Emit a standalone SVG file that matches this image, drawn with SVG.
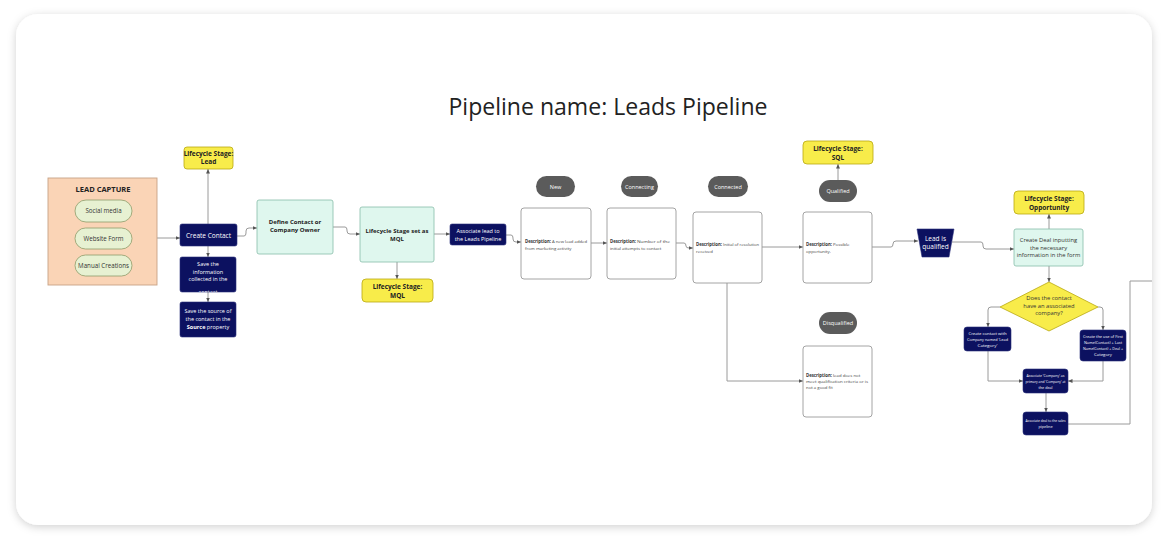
<svg xmlns="http://www.w3.org/2000/svg" width="1168" height="541" viewBox="0 0 1168 541">
<style>
text{font-family:"Open Sans","Noto Sans","Liberation Sans",sans-serif;}
.navy{fill:#0c1160;stroke:#2a2f7a;stroke-width:0.6;}
.mint{fill:#dff7ee;stroke:#86bda8;stroke-width:0.8;}
.yel{fill:#f8ec4a;stroke:#b9a810;stroke-width:0.8;}
.pill{fill:#e7f1d2;stroke:#8e9c6a;stroke-width:0.8;}
.gray{fill:#5b5b5b;}
.desc{fill:#ffffff;stroke:#9a9a9a;stroke-width:0.9;}
.wt{fill:#ffffff;font-size:5.5px;text-anchor:middle;}
.wt2{fill:#ffffff;font-size:6.5px;text-anchor:middle;}
.ws{fill:#ffffff;font-size:4.2px;text-anchor:middle;}
.bt{fill:#222;font-size:6px;font-weight:bold;text-anchor:middle;}
.yt{fill:#222;font-size:6.5px;font-weight:bold;text-anchor:middle;}
.dt{fill:#444;font-size:4.3px;}
.db{fill:#333;font-size:4.3px;font-weight:bold;}
.b{font-weight:bold;}
.pt{fill:#333;font-size:6.2px;text-anchor:middle;}
.ct{fill:#333;font-size:5.8px;text-anchor:middle;}
.conn path{fill:none;stroke:#9a9a9a;stroke-width:1;}
.arr{marker-end:url(#ah);}
</style>
<defs>
<filter id="sh" x="-5%" y="-5%" width="110%" height="110%">
<feDropShadow dx="0" dy="2" stdDeviation="4" flood-color="#000" flood-opacity="0.18"/>
</filter>
<marker id="ah" markerWidth="5" markerHeight="5" refX="4.5" refY="2.5" orient="auto" markerUnits="userSpaceOnUse">
<path d="M0,0.5 L4.5,2.5 L0,4.5 Z" fill="#555"/>
</marker>
<clipPath id="clipSave"><rect x="180" y="257" width="56" height="35"/></clipPath>
</defs>
<rect x="0" y="0" width="1168" height="541" fill="#ffffff"/>
<rect x="16" y="14" width="1136" height="511" rx="22" fill="#ffffff" filter="url(#sh)"/>
<text x="608" y="115" font-size="23" fill="#222" text-anchor="middle" textLength="319" lengthAdjust="spacingAndGlyphs">Pipeline name: Leads Pipeline</text>

<g class="conn">
<path d="M132,211 H156 V265 H132"/>
<path d="M132,238 H156"/>
<path class="arr" d="M156,238 H180"/>
<path class="arr" d="M208,224 V169"/>
<path class="arr" d="M208,246 V257"/>
<path class="arr" d="M208,292 V302"/>
<path class="arr" d="M237,236 H244 Q246,236 246,233 V231 Q246,228 249,228 H257"/>
<path class="arr" d="M333,227 H345 Q347,227 347,230 V231 Q347,234 350,234 H360"/>
<path class="arr" d="M397,262 V279"/>
<path class="arr" d="M434,234 H450"/>
<path class="arr" d="M506,235 H511 Q513,235 513,238 V239 Q513,242 516,242 H521"/>
<path class="arr" d="M591,243 H607"/>
<path class="arr" d="M676,243 H684 Q686,243 686,246 Q686,248 689,248 H693"/>
<path class="arr" d="M727,283 V381 H803"/>
<path class="arr" d="M762,247 H803"/>
<path class="arr" d="M838,180 V164"/>
<path class="arr" d="M872,247 H891 Q893,247 893,244 Q893,241 896,241 H918"/>
<path class="arr" d="M952,242 H981 Q983,242 983,245 V246 Q983,249 986,249 H1014"/>
<path class="arr" d="M1049,229 V214"/>
<path class="arr" d="M1049,266 V282"/>
<path class="arr" d="M1000,307 H991 Q988,307 988,310 V327"/>
<path class="arr" d="M1098,307 H1100 Q1103,307 1103,310 V330"/>
<path class="arr" d="M988,351 V381 H1023"/>
<path class="arr" d="M1103,361 V381 H1068"/>
<path class="arr" d="M1046,393 V412"/>
<path d="M1068,424 H1130 V281 H1152"/>
</g>

<g id="lead-capture">
<rect x="48" y="178" width="109" height="107" fill="#fad4b6" stroke="#c7a286" stroke-width="0.9"/>
<text x="103" y="192" font-size="7.5" font-weight="bold" fill="#222" text-anchor="middle">LEAD CAPTURE</text>
</g>
<g id="social-media">
<rect x="75" y="200" width="57" height="22" rx="11" class="pill"/>
<text x="103.5" y="213" class="pt">Social media</text>
</g>
<g id="website-form">
<rect x="75" y="228" width="57" height="21" rx="10.5" class="pill"/>
<text x="103.5" y="240.5" class="pt" font-size="5">Website Form</text>
</g>
<g id="manual-creations">
<rect x="75" y="255" width="57" height="21" rx="10.5" class="pill"/>
<text x="103.5" y="268" class="pt">Manual Creations</text>
</g>

<g id="create-contact">
<rect x="180" y="224" width="57" height="22" rx="2" class="navy"/>
<text x="208.5" y="237.5" class="wt2">Create Contact</text>
</g>
<g id="lifecycle-lead">
<rect x="184" y="147" width="49" height="22" rx="3" class="yel"/>
<text x="208.5" y="156" class="yt" font-size="5.5">Lifecycle Stage:</text>
<text x="208.5" y="164" class="yt" font-size="5.5">Lead</text>
</g>
<g id="save-info">
<rect x="180" y="257" width="56" height="35" rx="2" class="navy"/>
<g clip-path="url(#clipSave)">
<text x="208" y="266" class="wt">Save the</text>
<text x="208" y="273.5" class="wt">information</text>
<text x="208" y="281" class="wt">collected in the</text>
<text x="208" y="293.5" class="wt">contact</text>
</g>
</g>
<g id="save-source">
<rect x="180" y="302" width="56" height="35" rx="2" class="navy"/>
<text x="208" y="313" class="wt">Save the source of</text>
<text x="208" y="321" class="wt">the contact in the</text>
<text x="208" y="329" class="wt"><tspan class="b">Source</tspan> property</text>
</g>

<g id="define-owner">
<rect x="257" y="200" width="76" height="54" rx="2" class="mint"/>
<text x="295" y="224" class="bt">Define Contact or</text>
<text x="295" y="232" class="bt">Company Owner</text>
</g>
<g id="mql-set">
<rect x="360" y="207" width="74" height="55" rx="2" class="mint"/>
<text x="397" y="233" class="bt">Lifecycle Stage set as</text>
<text x="397" y="241" class="bt">MQL</text>
</g>
<g id="lifecycle-mql">
<rect x="362" y="279" width="71" height="23" rx="4" class="yel"/>
<text x="397.5" y="289" class="yt">Lifecycle Stage:</text>
<text x="397.5" y="298" class="yt">MQL</text>
</g>
<g id="associate-lead">
<rect x="450" y="224" width="56" height="21" rx="2" class="navy"/>
<text x="478" y="233" class="wt">Associate lead to</text>
<text x="478" y="240.5" class="wt">the Leads Pipeline</text>
</g>

<g id="new">
<rect x="536" y="176" width="39" height="21" rx="10.5" class="gray"/>
<text x="555.5" y="188.5" class="wt" font-size="5">New</text>
<rect x="521" y="208" width="70" height="71" rx="3" class="desc"/>
<text x="525" y="243" class="db">Description:</text>
<text x="552" y="243" class="dt" textLength="35" lengthAdjust="spacingAndGlyphs">A new lead added</text>
<text x="525" y="249.5" class="dt">from marketing activity</text>
</g>
<g id="connecting">
<rect x="621" y="176" width="37" height="21" rx="10.5" class="gray"/>
<text x="639.5" y="188.5" class="wt" font-size="5">Connecting</text>
<rect x="607" y="208" width="69" height="71" rx="3" class="desc"/>
<text x="610" y="243" class="db">Description:</text>
<text x="637" y="243" class="dt" textLength="33" lengthAdjust="spacingAndGlyphs">Number of the</text>
<text x="610" y="249.5" class="dt">initial attempts to contact</text>
</g>
<g id="connected">
<rect x="708" y="176" width="40" height="21" rx="10.5" class="gray"/>
<text x="728" y="188.5" class="wt" font-size="5">Connected</text>
<rect x="693" y="212" width="69" height="71" rx="3" class="desc"/>
<text x="696" y="246" class="db">Description:</text>
<text x="723" y="246" class="dt" textLength="36" lengthAdjust="spacingAndGlyphs">Initial of resolution</text>
<text x="696" y="252.5" class="dt">received</text>
</g>
<g id="qualified">
<rect x="819" y="180" width="38" height="22" rx="11" class="gray"/>
<text x="838" y="193" class="wt" font-size="5">Qualified</text>
<rect x="803" y="212" width="69" height="71" rx="3" class="desc"/>
<text x="806" y="246" class="db">Description:</text>
<text x="833" y="246" class="dt">Possible</text>
<text x="806" y="252.5" class="dt">opportunity.</text>
</g>
<g id="lifecycle-sql">
<rect x="803" y="141" width="70" height="23" rx="4" class="yel"/>
<text x="838" y="151" class="yt">Lifecycle Stage:</text>
<text x="838" y="160" class="yt">SQL</text>
</g>
<g id="disqualified">
<rect x="819" y="312" width="38" height="22" rx="11" class="gray"/>
<text x="838" y="325" class="wt" font-size="5">Disqualified</text>
<rect x="803" y="346" width="69" height="71" rx="3" class="desc"/>
<text x="806" y="377" class="db">Description:</text>
<text x="833" y="377" class="dt">lead does not</text>
<text x="806" y="383" class="dt" textLength="62" lengthAdjust="spacingAndGlyphs">meet qualification criteria or is</text>
<text x="806" y="389" class="dt">not a good fit</text>
</g>

<g id="lead-qualified">
<path d="M917,229 H954 L949,257 H922 Z" class="navy"/>
<text x="935.5" y="241" class="wt2" font-size="6">Lead is</text>
<text x="935.5" y="249" class="wt2" font-size="6">qualified</text>
</g>
<g id="create-deal">
<rect x="1014" y="229" width="69" height="37" rx="2" class="mint"/>
<text x="1048.5" y="242" class="ct">Create Deal inputting</text>
<text x="1048.5" y="249.5" class="ct">the necessary</text>
<text x="1048.5" y="257" class="ct">information in the form</text>
</g>
<g id="lifecycle-opportunity">
<rect x="1014" y="191" width="70" height="23" rx="4" class="yel"/>
<text x="1049" y="201" class="yt">Lifecycle Stage:</text>
<text x="1049" y="210" class="yt">Opportunity</text>
</g>
<g id="decision">
<path d="M1049,282 L1098,307 L1049,331 L1000,307 Z" fill="#f8ec4a" stroke="#b9a810" stroke-width="0.8"/>
<text x="1049" y="300" class="ct">Does the contact</text>
<text x="1049" y="307.5" class="ct">have an associated</text>
<text x="1049" y="315" class="ct">company?</text>
</g>
<g id="create-company-lead">
<rect x="964" y="327" width="47" height="24" rx="3" class="navy"/>
<text x="987.5" y="335" class="ws" textLength="38" lengthAdjust="spacingAndGlyphs">Create contact with</text>
<text x="987.5" y="341" class="ws" textLength="41" lengthAdjust="spacingAndGlyphs">Company named 'Lead</text>
<text x="987.5" y="347" class="ws" textLength="20" lengthAdjust="spacingAndGlyphs">Category'</text>
</g>
<g id="create-company-name">
<rect x="1080" y="330" width="46" height="31" rx="3" class="navy"/>
<text x="1103" y="338" class="ws" textLength="40" lengthAdjust="spacingAndGlyphs">Create the use of First</text>
<text x="1103" y="344" class="ws" textLength="38" lengthAdjust="spacingAndGlyphs">Name(Contact) + Last</text>
<text x="1103" y="350" class="ws" textLength="40" lengthAdjust="spacingAndGlyphs">Name(Contact) + Deal +</text>
<text x="1103" y="356" class="ws" textLength="18" lengthAdjust="spacingAndGlyphs">Category</text>
</g>
<g id="associate-company">
<rect x="1023" y="369" width="45" height="24" rx="3" class="navy"/>
<text x="1045.5" y="377" class="ws" textLength="38" lengthAdjust="spacingAndGlyphs">Associate 'Company' as</text>
<text x="1045.5" y="383" class="ws" textLength="40" lengthAdjust="spacingAndGlyphs">primary and 'Company' at</text>
<text x="1045.5" y="389" class="ws" textLength="14" lengthAdjust="spacingAndGlyphs">the deal</text>
</g>
<g id="associate-deal">
<rect x="1023" y="412" width="45" height="23" rx="3" class="navy"/>
<text x="1045.5" y="422" class="ws" textLength="40" lengthAdjust="spacingAndGlyphs">Associate deal to the sales</text>
<text x="1045.5" y="428" class="ws" textLength="14" lengthAdjust="spacingAndGlyphs">pipeline</text>
</g>
</svg>
